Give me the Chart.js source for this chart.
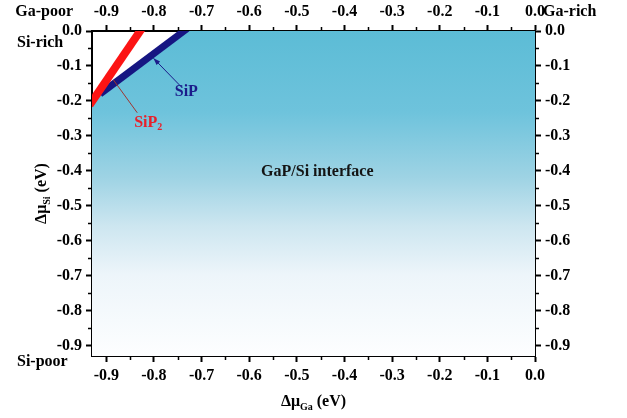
<!DOCTYPE html>
<html><head><meta charset="utf-8">
<script src="https://cdn.jsdelivr.net/npm/chart.js@4.4.0/dist/chart.umd.min.js"></script>
<style>html,body{margin:0;padding:0;background:#fff;}#wrap{width:627px;height:418px;}</style>
</head><body><div id="wrap"><canvas id="c" width="627" height="418"></canvas></div>
<script>
// ---- data ----
const xTickValues = [-0.9,-0.8,-0.7,-0.6,-0.5,-0.4,-0.3,-0.2,-0.1,0.0];
const xTickLabels = ['-0.9','-0.8','-0.7','-0.6','-0.5','-0.4','-0.3','-0.2','-0.1','0.0'];
const yTickValues = [0.0,-0.1,-0.2,-0.3,-0.4,-0.5,-0.6,-0.7,-0.8,-0.9];
const yTickLabels = ['0.0','-0.1','-0.2','-0.3','-0.4','-0.5','-0.6','-0.7','-0.8','-0.9'];
const xMinorTicks = [-0.85,-0.75,-0.65,-0.55,-0.45,-0.35,-0.25,-0.15,-0.05];
const yMinorTicks = [-0.05,-0.15,-0.25,-0.35,-0.45,-0.55,-0.65,-0.75,-0.85];
// SiP2 boundary line
const sip2Ga = [-0.935, -0.825];
const sip2Si = [-0.212, 0.008];
// SiP boundary line
const sipGa = [-0.913, -0.730];
const sipSi = [-0.180, 0.007];
// stable GaP/Si interface region (upper boundary)
const regionGa = [-0.93, -0.913, -0.737, 0.0];
const regionSi = [-0.202, -0.176, 0.0, 0.0];

const FF = "'Liberation Serif','Times New Roman',serif";
const pts = (xs, ys) => xs.map((v, i) => ({x: v, y: ys[i]}));

function gradientFill(ctx) {
  const ca = ctx.chart.chartArea;
  if (!ca) return 'rgba(95,190,216,1)';
  const g = ctx.chart.ctx.createLinearGradient(0, ca.top, 0, ca.bottom);
  g.addColorStop(0, 'rgb(92,188,214)');
  g.addColorStop(0.25, 'rgb(110,195,220)');
  g.addColorStop(0.45, 'rgb(158,211,228)');
  g.addColorStop(0.6, 'rgb(205,230,240)');
  g.addColorStop(0.75, 'rgb(237,245,250)');
  g.addColorStop(1, 'rgb(253,254,255)');
  return g;
}

function drawRuns(ctx, runs, cx, baseY, align) {
  // runs: [text, size, dy, color]
  let total = 0;
  runs.forEach(r => { ctx.font = 'bold ' + r[1] + 'px ' + FF; total += ctx.measureText(r[0]).width; });
  let x = align === 'center' ? cx - total / 2 : (align === 'right' ? cx - total : cx);
  ctx.textAlign = 'left'; ctx.textBaseline = 'alphabetic';
  runs.forEach(r => {
    ctx.font = 'bold ' + r[1] + 'px ' + FF;
    if (r[3]) ctx.fillStyle = r[3];
    ctx.fillText(r[0], x, baseY + r[2]);
    x += ctx.measureText(r[0]).width;
  });
}

const decor = {
  id: 'decor',
  afterDatasetsDraw(chart) {
    const {ctx, scales: {x, y}} = chart;
    const X = v => x.getPixelForValue(v), Y = v => y.getPixelForValue(v);
    ctx.save();
    ctx.fillStyle = '#141414';
    ctx.font = 'bold 16px ' + FF; ctx.textAlign = 'center'; ctx.textBaseline = 'middle';
    ctx.fillText('GaP/Si interface', X(-0.457), Y(-0.402));
    // SiP annotation with arrow
    const navy = '#1b1b8a';
    const ax0 = X(-0.741), ay0 = Y(-0.162), ax1 = X(-0.801), ay1 = Y(-0.078);
    ctx.strokeStyle = navy; ctx.lineWidth = 1;
    ctx.beginPath(); ctx.moveTo(ax0, ay0); ctx.lineTo(ax1, ay1); ctx.stroke();
    const ang = Math.atan2(ay1 - ay0, ax1 - ax0);
    ctx.fillStyle = navy;
    ctx.beginPath();
    ctx.moveTo(ax1, ay1);
    ctx.lineTo(ax1 - 7 * Math.cos(ang) + 2.5 * Math.sin(ang), ay1 - 7 * Math.sin(ang) - 2.5 * Math.cos(ang));
    ctx.lineTo(ax1 - 7 * Math.cos(ang) - 2.5 * Math.sin(ang), ay1 - 7 * Math.sin(ang) + 2.5 * Math.cos(ang));
    ctx.closePath(); ctx.fill();
    ctx.font = 'bold 16px ' + FF; ctx.textAlign = 'center'; ctx.textBaseline = 'middle';
    ctx.fillText('SiP', X(-0.732), Y(-0.174));
    // SiP2 annotation
    ctx.strokeStyle = '#a03530'; ctx.lineWidth = 1;
    ctx.beginPath(); ctx.moveTo(X(-0.835), Y(-0.234)); ctx.lineTo(X(-0.885), Y(-0.140)); ctx.stroke();
    drawRuns(ctx, [['SiP', 16, 0, '#e8202a'], ['2', 10, 3, '#e8202a']], X(-0.812), Y(-0.259) + 5, 'center');
    ctx.restore();
  },
  afterDraw(chart) {
    const {ctx, chartArea: ca, scales: {x, y}} = chart;
    ctx.save();
    ctx.strokeStyle = '#000'; ctx.lineWidth = 1.5;
    ctx.beginPath();
    xMinorTicks.forEach(v => {
      const px = Math.round(x.getPixelForValue(v)) + 0.5;
      ctx.moveTo(px, ca.bottom); ctx.lineTo(px, ca.bottom + 4);
      ctx.moveTo(px, ca.top); ctx.lineTo(px, ca.top - 4);
    });
    yMinorTicks.forEach(v => {
      const py = Math.round(y.getPixelForValue(v)) + 0.5;
      ctx.moveTo(ca.left, py); ctx.lineTo(ca.left - 4, py);
      ctx.moveTo(ca.right, py); ctx.lineTo(ca.right + 4, py);
    });
    ctx.stroke();
    // corner labels
    ctx.fillStyle = '#000';
    ctx.font = 'bold 16px ' + FF; ctx.textBaseline = 'alphabetic';
    ctx.textAlign = 'right'; ctx.fillText('Ga-poor', ca.left - 19, ca.top - 15);
    ctx.textAlign = 'left'; ctx.fillText('Ga-rich', ca.right + 8, ca.top - 15);
    ctx.fillText('Si-rich', 17, ca.top + 16);
    ctx.fillText('Si-poor', 17, ca.bottom + 10);
    // axis titles
    const cx = (ca.left + ca.right) / 2;
    drawRuns(ctx, [['\u0394\u03bc', 16, 0], ['Ga', 10, 4], [' (eV)', 16, 0]], cx, 406, 'center');
    ctx.save();
    ctx.translate(46, (ca.top + ca.bottom) / 2);
    ctx.rotate(-Math.PI / 2);
    drawRuns(ctx, [['\u0394\u03bc', 16, 0], ['Si', 10, 4], [' (eV)', 16, 0]], 0, 0, 'center');
    ctx.restore();
    ctx.restore();
  }
};

function axis(pos, isX, size, vals, labels) {
  return {
    type: 'linear', position: pos, min: -0.93, max: 0.0,
    afterBuildTicks: s => { s.ticks = vals.map(v => ({value: v})); },
    afterFit: s => { if (isX) s.height = size; else s.width = size; },
    ticks: {
      callback: (v, i) => labels[i],
      color: '#000', font: {family: FF, weight: 'bold', size: 16}, padding: 4,
      maxRotation: 0, autoSkip: false
    },
    grid: {drawOnChartArea: false, drawTicks: true, tickLength: 6, tickWidth: 2, tickColor: '#000', color: '#000'},
    border: {display: true, width: 2, color: '#000'}
  };
}

new Chart(document.getElementById('c'), {
  type: 'scatter',
  data: {
    datasets: [
      {label: 'SiP2', data: pts(sip2Ga, sip2Si), showLine: true, borderColor: 'rgb(252,20,20)', borderWidth: 8,
       pointRadius: 0, fill: false, clip: 0, borderCapStyle: 'butt'},
      {label: 'SiP', data: pts(sipGa, sipSi), showLine: true, borderColor: 'rgb(22,22,130)', borderWidth: 7,
       pointRadius: 0, fill: false, clip: 0, borderCapStyle: 'butt'},
      {label: 'region', data: pts(regionGa, regionSi), showLine: true, borderWidth: 0, borderColor: 'rgba(0,0,0,0)',
       pointRadius: 0, fill: 'start', backgroundColor: gradientFill, clip: 0}
    ]
  },
  options: {
    responsive: false, animation: false, devicePixelRatio: 1,
    layout: {padding: 0},
    plugins: {legend: {display: false}, tooltip: {enabled: false}},
    scales: {
      x: axis('bottom', true, 62, xTickValues, xTickLabels),
      x2: axis('top', true, 31, xTickValues, xTickLabels),
      y: axis('left', false, 92, yTickValues, yTickLabels),
      y2: axis('right', false, 92, yTickValues, yTickLabels)
    }
  },
  plugins: [decor]
});
</script>
</body></html>
